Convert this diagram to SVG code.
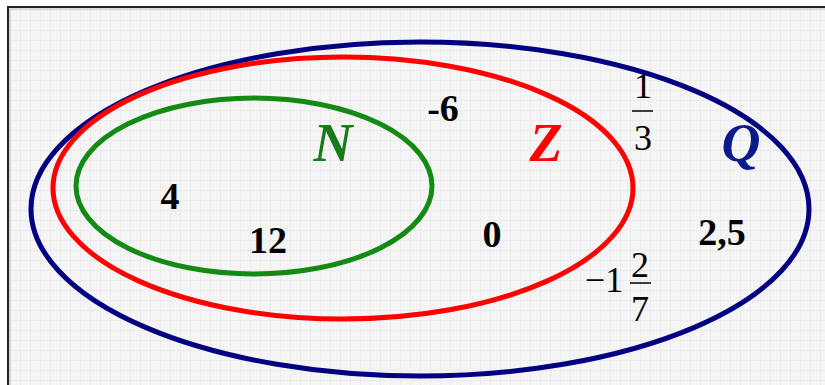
<svg xmlns="http://www.w3.org/2000/svg" width="825" height="385" viewBox="0 0 825 385">
<defs>
<pattern id="grid" width="10" height="10" patternUnits="userSpaceOnUse">
<rect width="10" height="10" fill="#f5f5f5"/>
<path d="M0 0.5H10M0.5 0V10" stroke="#ebebeb" stroke-width="1" fill="none"/>
</pattern>
<style>
.set{fill:none;stroke-width:5}
.num{font-family:"Liberation Serif",serif;font-weight:bold;font-size:38px;fill:#000;text-anchor:middle}
.frac{font-family:"Liberation Serif",serif;font-size:36px;fill:#000;text-anchor:middle}
.lbl{font-family:"Liberation Serif",serif;font-weight:bold;font-style:italic;font-size:54px;text-anchor:middle}
</style>
</defs>
<rect width="825" height="385" fill="#fff"/>
<rect x="8" y="7" width="830" height="390" fill="url(#grid)" stroke="#222" stroke-width="2"/>
<line x1="10" y1="9" x2="825" y2="9" stroke="#bbb" stroke-width="1"/>
<line x1="10" y1="9" x2="10" y2="385" stroke="#bbb" stroke-width="1"/>
<g id="set-Q">
<ellipse class="set" cx="420" cy="209" rx="389" ry="167" stroke="#000080"/>
<text class="lbl" x="741" y="161" fill="#0d1a8c">Q</text>
</g>
<g id="set-Z">
<ellipse class="set" cx="343" cy="188" rx="290" ry="131" stroke="#ff0000"/>
<text class="lbl" x="546" y="161" fill="#ff0000">Z</text>
</g>
<g id="set-N">
<ellipse class="set" cx="254" cy="186" rx="178" ry="88" stroke="#138a13"/>
<text class="lbl" x="333" y="161" fill="#1a7a1a">N</text>
</g>
<g id="elements">
<text class="num" x="170" y="209">4</text>
<text class="num" x="268" y="253">12</text>
<text class="num" x="443" y="121">-6</text>
<text class="num" x="492" y="247">0</text>
<text class="num" x="722" y="245">2,5</text>
<g id="one-third">
<text class="frac" x="643" y="98">1</text>
<line x1="632" y1="111" x2="653" y2="111" stroke="#000" stroke-width="1.5"/>
<text class="frac" x="643" y="150">3</text>
</g>
<g id="minus-one-two-sevenths">
<text class="frac" x="604" y="292">−1</text>
<text class="frac" x="640" y="277">2</text>
<line x1="630" y1="283" x2="651" y2="283" stroke="#000" stroke-width="1.5"/>
<text class="frac" x="640" y="321">7</text>
</g>
</g>
</svg>
